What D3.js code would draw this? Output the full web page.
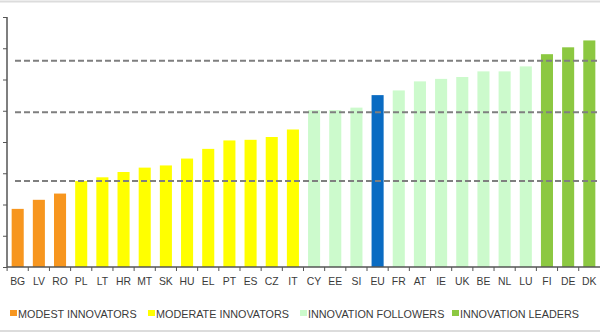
<!DOCTYPE html>
<html>
<head>
<meta charset="utf-8">
<script src="https://cdn.jsdelivr.net/npm/d3@7"></script>
<style>
  html, body { margin: 0; padding: 0; background: #fff; }
  svg { display: block; font-family: Arial, "Liberation Sans", sans-serif; }
</style>
</head>
<body>
<script>
var countries = ['BG','LV','RO','PL','LT','HR','MT','SK','HU','EL','PT','ES','CZ','IT',
                 'CY','EE','SI','EU','FR','AT','IE','UK','BE','NL','LU','FI','DE','DK'];
var scores = [0.186,0.215,0.235,0.275,0.287,0.304,0.318,0.325,0.347,0.378,0.405,0.407,0.416,0.440,
              0.502,0.502,0.510,0.550,0.565,0.594,0.602,0.608,0.626,0.626,0.642,0.681,0.703,0.725];
var groups = ['modest','modest','modest','moderate','moderate','moderate','moderate','moderate','moderate','moderate','moderate','moderate','moderate','moderate',
              'follower','follower','follower','eu','follower','follower','follower','follower','follower','follower','follower','leader','leader','leader'];
var groupKeys = ['modest','moderate','follower','leader','eu'];
var groupNames = ['MODEST INNOVATORS','MODERATE INNOVATORS','INNOVATION FOLLOWERS','INNOVATION LEADERS'];
var thresholds = [0.275, 0.495, 0.66];
var yTicks = [0,0.1,0.2,0.3,0.4,0.5,0.6,0.7,0.8];

var chart = {
    width: 600,
    height: 334,
    top: 17,
    bottom: 267,
    left: 7,
    right: 600
};

var colour = d3.scaleOrdinal()
    .domain(groupKeys)
    .range(['#F7961F', '#FFFF00', '#CCFACC', '#8CC841', '#0A6BC2']);

var data = countries.map(function(c, i) {
    return { country: c, score: scores[i], group: groups[i] };
});

var svg = d3.select('body').append('svg')
    .attr('width', chart.width)
    .attr('height', chart.height);

// frame lines top and bottom
svg.append('line').attr('x1', 0).attr('x2', chart.width).attr('y1', 1.5).attr('y2', 1.5)
    .style('stroke', '#dcdcdc').style('stroke-width', 2);
svg.append('line').attr('x1', 0).attr('x2', chart.width).attr('y1', 331).attr('y2', 331)
    .style('stroke', '#dcdcdc').style('stroke-width', 2);

var x = d3.scaleBand()
    .domain(countries)
    .range([chart.left, chart.right])
    .paddingInner(0.43)
    .paddingOuter(0.22);

var y = d3.scaleLinear()
    .domain([0, 0.8])
    .range([chart.bottom, chart.top]);

// bars
svg.append('g').selectAll('rect')
    .data(data)
    .enter().append('rect')
    .attr('x', function(d) { return x(d.country); })
    .attr('y', function(d) { return y(d.score); })
    .attr('width', x.bandwidth())
    .attr('height', function(d) { return y(0) - y(d.score); })
    .style('fill', function(d) { return colour(d.group); });

// threshold lines
svg.append('g').selectAll('line')
    .data(thresholds)
    .enter().append('line')
    .attr('x1', 15)
    .attr('x2', chart.width)
    .attr('y1', function(d) { return y(d); })
    .attr('y2', function(d) { return y(d); })
    .style('stroke', '#7f7f7f')
    .style('stroke-width', 2)
    .style('stroke-dasharray', '6,3');

// y axis (labels sit outside the visible area)
var yAxis = svg.append('g')
    .attr('transform', 'translate(' + chart.left + ',0)')
    .call(d3.axisLeft(y).tickValues(yTicks).tickSize(4).tickFormat(''));
yAxis.select('.domain').attr('d', 'M0,' + chart.top + 'V' + chart.bottom)
    .style('stroke', '#555').style('stroke-width', 1.5);
yAxis.selectAll('.tick line').style('stroke', '#555');

// x axis baseline and separators
var step = x.step();
var xAxis = svg.append('g')
    .attr('transform', 'translate(0,' + chart.bottom + ')');
xAxis.append('line')
    .attr('x1', chart.left).attr('x2', chart.right)
    .style('stroke', '#555').style('stroke-width', 1.5);
xAxis.selectAll('line.sep')
    .data(countries)
    .enter().append('line')
    .attr('class', 'sep')
    .attr('x1', function(d) { return x(d) - (step - x.bandwidth()) / 2; })
    .attr('x2', function(d) { return x(d) - (step - x.bandwidth()) / 2; })
    .attr('y1', 0).attr('y2', 4)
    .style('stroke', '#555');
xAxis.selectAll('text')
    .data(countries)
    .enter().append('text')
    .attr('x', function(d) { return x(d) + x.bandwidth() / 2; })
    .attr('y', 18)
    .attr('text-anchor', 'middle')
    .style('font-size', '10.4px')
    .style('fill', '#3a3a3a')
    .text(function(d) { return d; });

// legend
var legendX = [10, 148, 300, 452];
var legend = svg.append('g').selectAll('g')
    .data(groupNames)
    .enter().append('g')
    .attr('transform', function(d, i) { return 'translate(' + legendX[i] + ',310)'; });
legend.append('rect')
    .attr('width', 7).attr('height', 6)
    .style('fill', function(d, i) { return colour(groupKeys[i]); });
legend.append('text')
    .attr('x', 8).attr('y', 7.5)
    .style('font-size', '10.8px')
    .style('fill', '#3a3a3a')
    .text(function(d) { return d; });
</script>
</body>
</html>
